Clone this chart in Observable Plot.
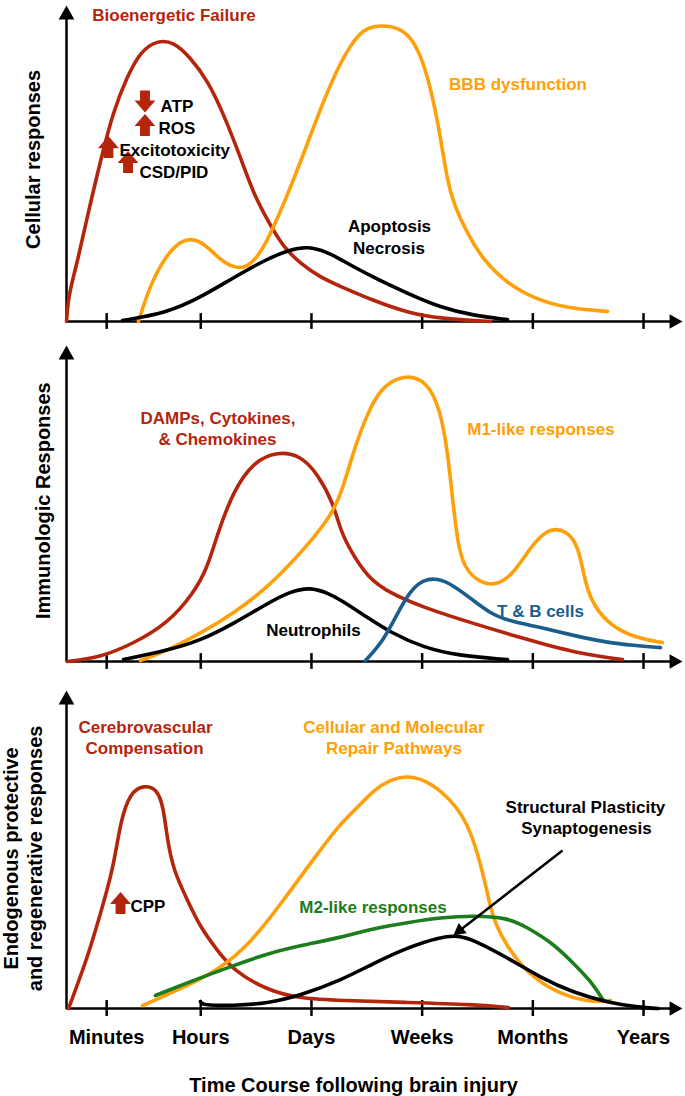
<!DOCTYPE html>
<html><head><meta charset="utf-8">
<script src="https://cdn.jsdelivr.net/npm/d3@7"></script>
<script src="https://cdn.jsdelivr.net/npm/@observablehq/plot@0.6"></script>
<style>
body{margin:0;background:#fff;}
#chart{width:685px;}
#chart svg{display:block;overflow:visible;}
</style></head><body><div id="chart"></div>
<script>
// ---------- DATA (x in time units: Hours=2, Days=3, Weeks=4, Months=5, Years=6; y = relative response 0-100) ----------
const timeTicks = [1.15, 2, 3, 4, 5, 6];
const timeLabels = ["Minutes", "Hours", "Days", "Weeks", "Months", "Years"];

// Panel 1 – Cellular responses
const bioenergeticFailure = [[0.787,0],[0.800,6.0],[0.829,11.5],[0.886,19.0],[0.977,33.5],[1.094,50.9],[1.212,66.8],[1.338,77.7],[1.455,85.5],[1.609,89.0],[1.754,88.5],[1.907,83.5],[2.061,76.3],[2.205,65.8],[2.359,51.9],[2.476,40.5],[2.603,32.0],[2.747,23.4],[2.901,18.4],[3.081,13.9],[3.262,11.1],[3.560,6.6],[3.867,2.8],[4.165,0.9],[4.617,0]];
const bbbDysfunction = [[1.437,0],[1.546,12.0],[1.699,21.5],[1.817,25.3],[1.907,26.3],[2.025,24.9],[2.151,20.3],[2.296,16.8],[2.422,17.1],[2.540,21.5],[2.657,29.7],[2.811,42.4],[2.964,56.3],[3.109,69.9],[3.262,82.0],[3.352,87.2],[3.443,91.6],[3.560,93.6],[3.714,93.6],[3.867,91.6],[3.985,84.8],[4.075,74.1],[4.138,63.6],[4.184,54.1],[4.229,44.6],[4.283,37.3],[4.409,27.8],[4.554,19.3],[4.771,12.0],[5.006,7.3],[5.313,4.1],[5.674,3.2]];
const apoptosisNecrosis = [[1.293,0.3],[1.699,2.8],[1.997,7.6],[2.296,13.9],[2.603,19.9],[2.811,22.8],[2.964,23.8],[3.145,22.0],[3.262,19.6],[3.560,13.9],[3.867,8.9],[4.165,4.4],[4.463,1.9],[4.771,0.6]];

// Panel 2 – Immunologic responses
const dampsCytokines = [[0.796,0],[1.094,1.3],[1.392,5.7],[1.699,12.0],[1.934,21.5],[2.061,29.7],[2.151,40.5],[2.296,54.1],[2.476,63.2],[2.693,66.5],[2.901,65.2],[3.054,59.5],[3.199,50.0],[3.262,41.5],[3.352,35.1],[3.506,26.6],[3.714,21.5],[4.012,17.1],[4.464,12.0],[4.915,7.3],[5.367,2.8],[5.810,0.6]];
const m1Like = [[1.455,0.3],[1.699,3.5],[1.997,8.9],[2.296,15.2],[2.603,23.4],[2.901,34.2],[3.145,44.6],[3.262,51.9],[3.380,66.8],[3.506,78.5],[3.623,86.5],[3.831,91.0],[4.048,88.8],[4.165,79.4],[4.229,66.8],[4.283,48.7],[4.319,38.3],[4.373,29.7],[4.527,24.7],[4.680,24.1],[4.825,27.8],[4.978,36.1],[5.132,42.3],[5.313,41.5],[5.412,36.1],[5.457,27.8],[5.520,19.3],[5.674,12.0],[5.909,7.6],[6.171,6.0]];
const tbCells = [[3.488,0.3],[3.651,6.6],[3.777,15.2],[3.894,22.5],[4.012,25.9],[4.138,26.4],[4.283,24.1],[4.464,19.3],[4.617,15.2],[4.771,13.0],[5.069,10.8],[5.367,8.2],[5.674,6.0],[5.909,5.1],[6.153,4.4]];
const neutrophils = [[1.302,0.6],[1.699,3.5],[1.997,6.6],[2.296,12.0],[2.603,18.4],[2.811,22.2],[2.991,23.5],[3.145,21.7],[3.262,19.6],[3.506,13.9],[3.714,9.2],[4.012,4.4],[4.319,1.9],[4.771,0.6]];

// Panel 3 – Endogenous protective and regenerative responses
const cerebrovascular = [[0.805,0],[0.977,16.0],[1.094,29.9],[1.212,44.3],[1.275,59.1],[1.365,68.0],[1.483,70.3],[1.609,69.0],[1.663,63.2],[1.699,52.8],[1.754,43.4],[1.880,34.0],[1.997,25.5],[2.151,18.2],[2.296,11.9],[2.603,5.7],[2.901,3.1],[3.262,2.5],[3.867,1.9],[4.464,1.3],[4.780,0.3]];
const repairPathways = [[1.474,0.9],[1.844,6.6],[2.151,11.9],[2.449,20.4],[2.747,34.0],[3.054,48.7],[3.262,58.2],[3.416,63.2],[3.560,68.6],[3.714,72.0],[3.867,73.2],[4.012,72.0],[4.165,68.6],[4.319,63.2],[4.436,56.0],[4.527,45.6],[4.590,36.2],[4.644,27.7],[4.771,19.2],[4.951,11.0],[5.222,4.7],[5.520,1.9],[5.701,2.5]];
const m2Like = [[1.591,4.1],[1.997,9.7],[2.296,13.5],[2.603,17.3],[2.901,19.8],[3.262,22.3],[3.560,25.2],[3.867,27.0],[4.165,28.6],[4.464,29.2],[4.771,28.6],[4.951,25.5],[5.186,20.4],[5.367,14.2],[5.520,8.8],[5.638,2.5]];
const structuralPlasticity = [[1.997,2.2],[2.02,1.0],[2.296,0.9],[2.603,1.6],[2.901,4.1],[3.262,8.8],[3.560,14.2],[3.867,19.2],[4.165,22.5],[4.319,23.0],[4.464,21.6],[4.771,16.0],[5.069,9.7],[5.367,5.0],[5.674,1.9],[5.973,0.3],[6.135,0]];

// Annotations (anchor points in data units)
const panel1Labels = [
  {text:"Bioenergetic Failure", x:1.758, y:96.8, series:"red", anchor:"middle"},
  {text:"ATP", x:1.636, y:68.0, series:"black", anchor:"start"},
  {text:"ROS", x:1.618, y:61.1, series:"black", anchor:"start"},
  {text:"Excitotoxicity", x:1.266, y:54.1, series:"black", anchor:"start"},
  {text:"CSD/PID", x:1.446, y:47.2, series:"black", anchor:"start"},
  {text:"BBB dysfunction", x:4.866, y:75.0, series:"orange", anchor:"middle"},
  {text:"Apoptosis", x:3.705, y:30.1, series:"black", anchor:"middle"},
  {text:"Necrosis", x:3.700, y:23.1, series:"black", anchor:"middle"}
];
const panel1Arrows = [{x:1.496, y:69.6, dir:"down"},{x:1.496, y:62.2, dir:"up"},{x:1.166, y:55.2, dir:"up"},{x:1.343, y:50.5, dir:"up"}];
const panel2Labels = [
  {text:"DAMPs, Cytokines,", x:2.156, y:76.9, series:"red", anchor:"middle"},
  {text:"& Chemokines", x:2.151, y:70.3, series:"red", anchor:"middle"},
  {text:"M1-like responses", x:5.073, y:73.4, series:"orange", anchor:"middle"},
  {text:"T & B cells", x:5.069, y:15.8, series:"blue", anchor:"middle"},
  {text:"Neutrophils", x:3.018, y:9.8, series:"black", anchor:"middle"}
];
const panel3Labels = [
  {text:"Cerebrovascular", x:1.501, y:88.4, series:"red", anchor:"middle"},
  {text:"Compensation", x:1.492, y:81.8, series:"red", anchor:"middle"},
  {text:"Cellular and Molecular", x:3.745, y:88.4, series:"orange", anchor:"middle"},
  {text:"Repair Pathways", x:3.745, y:81.8, series:"orange", anchor:"middle"},
  {text:"Structural Plasticity", x:5.475, y:63.2, series:"black", anchor:"middle"},
  {text:"Synaptogenesis", x:5.484, y:56.6, series:"black", anchor:"middle"},
  {text:"M2-like responses", x:3.556, y:31.8, series:"green", anchor:"middle"},
  {text:"CPP", x:1.365, y:32.1, series:"black", anchor:"start"}
];
const panel3Arrows = [{x:1.275, y:33.2, dir:"up"}];
const pointer = {x1:5.268, y1:49.7, x2:4.283, y2:23.0};
const yAxisTitles = [
  [{text:"Cellular responses", x:0.489, y:51.3}],
  [{text:"Immunologic Responses", x:0.579, y:50.9}],
  [{text:"Endogenous protective", x:0.290, y:47.2},{text:"and regenerative responses", x:0.507, y:47.2}]
];
const xTitle = {text:"Time Course following brain injury", x:3.380, y:-24.2};

// ---------- STYLE ----------
const FONT = "'Liberation Sans', Arial, Helvetica, sans-serif";
const COLORS = {red:"#b3260c", orange:"#ff9f0a", blue:"#1b5e8c", green:"#1c7d1c", black:"#000000"};
const X0 = 0.787, XMAX = 6.352;

const arrowHead = {draw(ctx, size){ const r = Math.sqrt(size/Math.PI); ctx.moveTo(0,0); ctx.lineTo(r,1.8*r); ctx.lineTo(-r,1.8*r); ctx.closePath(); }};
const blockArrow = {draw(ctx, size){ const r = Math.sqrt(size/Math.PI); const hw=0.95*r, sw=0.45*r, hb=0.1*r;
  ctx.moveTo(0,-r); ctx.lineTo(hw,hb); ctx.lineTo(sw,hb); ctx.lineTo(sw,r); ctx.lineTo(-sw,r); ctx.lineTo(-sw,hb); ctx.lineTo(-hw,hb); ctx.closePath(); }};

function labelMarks(labels, anchor) {
  return Plot.text(labels.filter(d => d.anchor === anchor), {x: "x", y: "y", text: "text", fill: d => COLORS[d.series], textAnchor: anchor, fontSize: 17, fontWeight: "bold", fontFamily: FONT});
}

function panel({height, marginTop, marginBottom, curves, labels, arrows = [], yTitles, extra = []}) {
  const marks = [
    Plot.ruleY([0], {x1: X0, x2: XMAX - 0.1, stroke: "#000", strokeWidth: 2.5}),
    Plot.ruleX(timeTicks, {x: d => d, y1: -2.5, y2: 2.5, stroke: "#000", strokeWidth: 2.5}),
    Plot.ruleX([X0], {x: d => d, y1: -0.3, y2: 96, stroke: "#000", strokeWidth: 2.5}),
    Plot.dot([[X0, 100]], {x: d => d[0], y: d => d[1], symbol: arrowHead, r: 7.8, fill: "#000", stroke: null}),
    Plot.dot([[XMAX, 0]], {x: d => d[0], y: d => d[1], symbol: arrowHead, r: 7.2, fill: "#000", stroke: null, rotate: 90}),
    ...curves.map(c => Plot.line(c.data, {x: d => d[0], y: d => d[1], stroke: COLORS[c.series], strokeWidth: 3.6, curve: "basis"})),
    Plot.dot(arrows, {x: "x", y: "y", symbol: blockArrow, r: 11, fill: COLORS.red, stroke: null, rotate: d => d.dir === "down" ? 180 : 0}),
    labelMarks(labels, "middle"),
    labelMarks(labels, "start"),
    Plot.text(yTitles, {x: "x", y: "y", text: "text", rotate: -90, fill: "#000", fontSize: 20, fontWeight: "bold", fontFamily: FONT}),
    ...extra
  ];
  return Plot.plot({
    width: 685, height, marginLeft: 66, marginRight: 3, marginTop, marginBottom,
    x: {domain: [X0, XMAX], axis: null},
    y: {domain: [0, 100], axis: null},
    style: {fontFamily: FONT, background: "#fff"},
    marks
  });
}

const chart = document.getElementById("chart");
chart.append(panel({
  height: 340, marginTop: 5, marginBottom: 19,
  curves: [{data: bioenergeticFailure, series: "red"}, {data: bbbDysfunction, series: "orange"}, {data: apoptosisNecrosis, series: "black"}],
  labels: panel1Labels, arrows: panel1Arrows, yTitles: yAxisTitles[0]
}));
chart.append(panel({
  height: 340, marginTop: 5, marginBottom: 19,
  curves: [{data: dampsCytokines, series: "red"}, {data: m1Like, series: "orange"}, {data: neutrophils, series: "black"}, {data: tbCells, series: "blue"}],
  labels: panel2Labels, yTitles: yAxisTitles[1]
}));
const t = 0.94;
chart.append(panel({
  height: 416, marginTop: 10, marginBottom: 88,
  curves: [{data: cerebrovascular, series: "red"}, {data: repairPathways, series: "orange"}, {data: m2Like, series: "green"}, {data: structuralPlasticity, series: "black"}],
  labels: panel3Labels, arrows: panel3Arrows, yTitles: yAxisTitles[2],
  extra: [
    Plot.link([pointer], {x1: "x1", y1: "y1", x2: d => d.x1 + (d.x2 - d.x1) * t, y2: d => d.y1 + (d.y2 - d.y1) * t, stroke: "#000", strokeWidth: 2.5}),
    Plot.dot([pointer], {x: "x2", y: "y2", symbol: arrowHead, r: 6.5, fill: "#000", stroke: null, rotate: 232}),
    Plot.text(timeLabels, {x: (d, i) => timeTicks[i], y: -9.1, text: d => d, fontSize: 20, fontWeight: "bold", fontFamily: FONT, fill: "#000"}),
    Plot.text([xTitle], {x: "x", y: "y", text: "text", fontSize: 20, fontWeight: "bold", fontFamily: FONT, fill: "#000"})
  ]
}));
</script></body></html>
